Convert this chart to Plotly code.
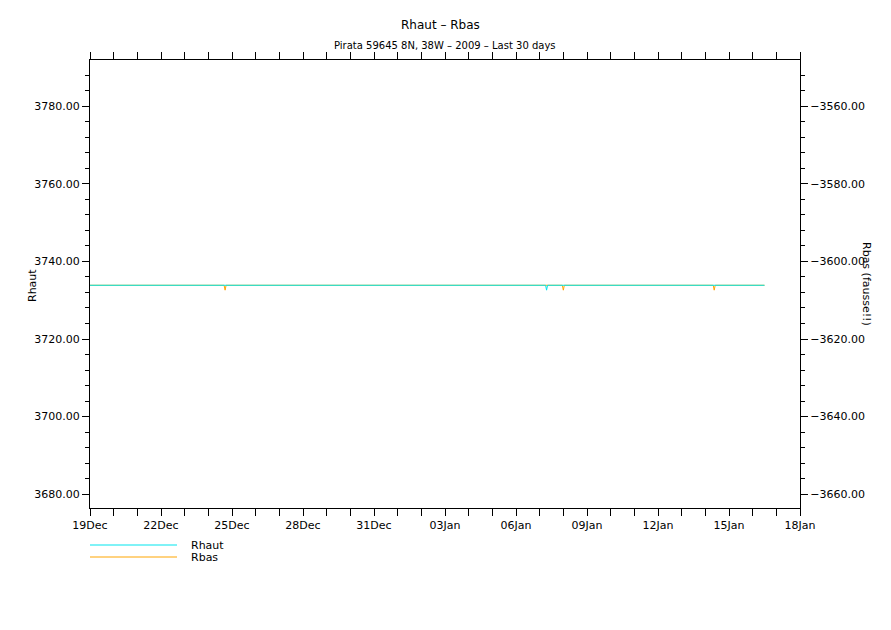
import plotly.graph_objects as go

# ---- data ----
series_names = ["Rhaut", "Rbas"]
series_colors = ["#00E5EE", "#FFA500"]

rhaut_time = ["2008-12-19 00:00", "2009-01-07 06:00", "2009-01-07 07:00",
              "2009-01-07 08:00", "2009-01-16 12:00"]
rhaut_vals = [3733.86, 3733.86, 3732.6, 3733.86, 3733.86]

rbas_time = ["2008-12-19 00:00",
             "2008-12-24 16:00", "2008-12-24 17:00", "2008-12-24 18:00",
             "2009-01-07 23:00", "2009-01-08 00:00", "2009-01-08 01:00",
             "2009-01-14 08:00", "2009-01-14 09:00", "2009-01-14 10:00",
             "2009-01-16 12:00"]
rbas_vals = [-3606.14,
             -3606.14, -3607.4, -3606.14,
             -3606.14, -3607.4, -3606.14,
             -3606.14, -3607.4, -3606.14,
             -3606.14]

x_range = ["2008-12-19", "2009-01-18"]
rhaut_range = [3676.4, 3791.98]
rbas_range = [-3663.6, -3548.02]

title_text = "Rhaut – Rbas"
subtitle_text = "Pirata 59645 8N, 38W – 2009 – Last 30 days"
left_title = "Rhaut"
right_title = "Rbas (fausse!!)"

FONT = "DejaVu Sans"

# page body has an 8px default margin: figure origin sits at (8, 8)
OFF = 8
ML, MT, PW, PH = 90 - OFF, 60 - OFF, 710, 448
W, H = 891, 630
MR = W - ML - PW
MB = H - MT - PH


def py(pix):
    """page pixel y -> paper fraction"""
    return (H - (pix - OFF) - MB) / PH


def px(pix):
    """page pixel x -> paper fraction"""
    return ((pix - OFF) - ML) / PW


fig = go.Figure()
# Rbas on base axis (drawn below), Rhaut on overlaying axis (drawn on top)
fig.add_trace(go.Scatter(x=rbas_time, y=rbas_vals, mode="lines", name=series_names[1],
                         line=dict(color=series_colors[1], width=1), yaxis="y"))
fig.add_trace(go.Scatter(x=rhaut_time, y=rhaut_vals, mode="lines", name=series_names[0],
                         line=dict(color=series_colors[0], width=1), yaxis="y2"))

axis_common = dict(showgrid=False, zeroline=False, showline=True, linecolor="black",
                   linewidth=1, ticks="outside", tickcolor="black", ticklen=7,
                   automargin=False,
                   tickfont=dict(family=FONT, size=11, color="black"))

fig.update_layout(
    width=W, height=H,
    margin=dict(l=ML, r=MR, t=MT, b=MB, autoexpand=False),
    paper_bgcolor="white", plot_bgcolor="white",
    showlegend=False,
    font=dict(family=FONT, color="black"),
    xaxis=dict(**axis_common, type="date", range=x_range, tickformat="%d%b",
               dtick=3 * 86400000, tick0="2008-12-19", mirror="allticks",
               minor=dict(dtick=86400000, ticks="outside", ticklen=4, tickcolor="black")),
    yaxis=dict(**axis_common, side="right", range=rbas_range, tickformat=".2f",
               dtick=20, tick0=0,
               minor=dict(dtick=4, ticks="outside", ticklen=4, tickcolor="black")),
    yaxis2=dict(**axis_common, overlaying="y", side="left", range=rhaut_range,
                tickformat=".2f", dtick=20, tick0=0,
                minor=dict(dtick=4, ticks="outside", ticklen=4, tickcolor="black")),
)

annotations = [
    dict(text=title_text, x=px(440), y=py(25), xref="paper", yref="paper",
         showarrow=False, font=dict(family=FONT, size=12), xanchor="center", yanchor="middle"),
    dict(text=subtitle_text, x=px(445), y=py(45), xref="paper", yref="paper",
         showarrow=False, font=dict(family=FONT, size=10), xanchor="center", yanchor="middle"),
    dict(text=left_title, x=px(32), y=py(286), xref="paper", yref="paper",
         showarrow=False, textangle=-90, font=dict(family=FONT, size=11),
         xanchor="center", yanchor="middle"),
    dict(text=right_title, x=px(867), y=py(284), xref="paper", yref="paper",
         showarrow=False, textangle=90, font=dict(family=FONT, size=11),
         xanchor="center", yanchor="middle"),
]

# custom legend under the plot
shapes = []
legend_rows = [545, 557]
for name, color, ypix in zip(series_names, series_colors, legend_rows):
    yp = py(ypix)
    shapes.append(dict(type="line", xref="paper", yref="paper",
                       x0=px(90), x1=px(177), y0=yp, y1=yp,
                       line=dict(color=color, width=1)))
    annotations.append(dict(text=name, x=px(189), y=yp, xref="paper", yref="paper",
                            showarrow=False, xanchor="left", yanchor="middle",
                            font=dict(family=FONT, size=11)))

fig.update_layout(annotations=annotations, shapes=shapes)
fig.write_html("out.html")
